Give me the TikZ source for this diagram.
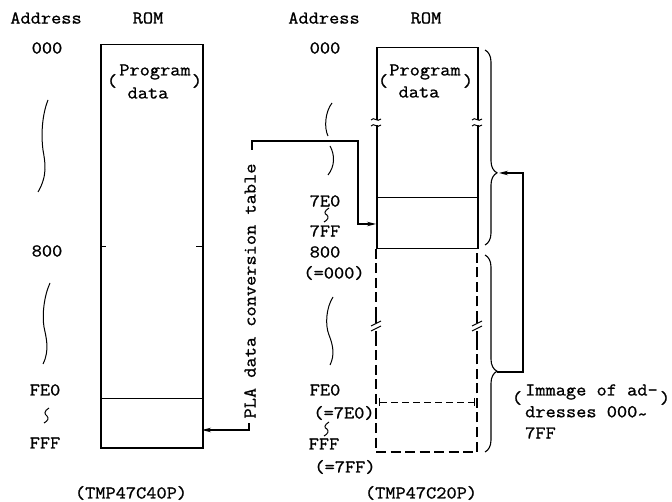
\documentclass[tikz,border=0pt]{standalone}
\usepackage{fontspec}
\setmainfont{Latin Modern Mono}[FakeStretch=1.1,FakeBold=1]
\usetikzlibrary{arrows.meta,decorations.pathreplacing}
\begin{document}
\begin{tikzpicture}[x=1pt,y=-1pt,
  lbl/.style={font=\fontsize{18}{21}\selectfont, inner sep=0pt},
  boxline/.style={draw, line width=1.5pt, inner sep=0pt},
  inner/.style={line width=1pt},
  conn/.style={line width=1.1pt},
  arr/.style={conn,-{Stealth[length=9pt,width=4.5pt]}},
  dsh/.style={line width=1.8pt, dash pattern=on 10pt off 4.5pt},
  thindsh/.style={line width=0.9pt, dash pattern=on 7pt off 4pt},
  sq/.style={line width=1pt},
  brc/.style={line width=1.1pt, decorate}
]
\useasboundingbox (0,0) rectangle (672,502);

% ---------------- left memory map (TMP47C40P)
\node[lbl] (a1) at (46,18) {Address};
\node[lbl] (r1) at (148,18) {ROM};
\node[lbl] (l000) at (47,48) {000};
\node[lbl] (l800) at (47,251) {800};
\node[lbl] (lfe0) at (45,390) {FE0};
\node[lbl] (lfff) at (45,443) {FFF};
\node[lbl] (tmp40) at (131,493) {(TMP47C40P)};

\node[boxline, minimum width=102pt, minimum height=403pt, anchor=north west] (lrom) at (100,44) {};
\draw[inner] (100,247) -- (106,247);
\draw[inner] (196,247) -- (202,247);
\draw[inner] (100,399) -- (202,399);

\node[lbl] (lprog) at (155,72) {Program};
\node[lbl] (ldata) at (148,93) {data};
\node[lbl] (lpo) at (112,81) {(};
\node[lbl] (lpc) at (197,81) {)};

% squiggles left
\draw[sq] (48,100) .. controls (42,115) and (41,135) .. (43,150) .. controls (45,162) and (48,175) .. (38,192);
\draw[sq] (50,283) .. controls (44,296) and (42,315) .. (44,327) .. controls (46,337) and (50,350) .. (43,364);
\draw[sq] (49,408) .. controls (44,411) and (44,414) .. (47,416) .. controls (49,418) and (48,421) .. (44,423);

% ---------------- right memory map (TMP47C20P)
\node[lbl] (a2) at (324,18) {Address};
\node[lbl] (r2) at (426,18) {ROM};
\node[lbl] (r000) at (325,48) {000};
\node[lbl] (r7e0) at (325,201) {7E0};
\node[lbl] (r7ff) at (325,231) {7FF};
\node[lbl] (r800) at (325,252) {800};
\node[lbl] (req0) at (334,273) {(=000)};
\node[lbl] (rfe0) at (325,390) {FE0};
\node[lbl] (req7e0) at (344,413) {(=7E0)};
\node[lbl] (rfff) at (324,444) {FFF};
\node[lbl] (req7ff) at (345,467) {(=7FF)};
\node[lbl] (tmp20) at (421,493) {(TMP47C20P)};

\node[boxline, minimum width=101pt, minimum height=201pt, anchor=north west] (rrom) at (376,47) {};
\draw[inner] (376,198) -- (477,198);
\draw[dsh] (376,249) -- (376,452) -- (477,452) -- (477,249);
\draw[thindsh] (380,402) -- (474,402);
\draw[inner] (379,398) -- (379,406);
\draw[inner] (474,398) -- (474,406);

\node[lbl] (rprog) at (425,72) {Program};
\node[lbl] (rdata) at (419,92) {data};
\node[lbl] (rpo) at (383,81) {(};
\node[lbl] (rpc) at (468,81) {)};

% break marks on solid box
\foreach \bx in {376,477}{
  \fill[white] (\bx-3,120) rectangle (\bx+3,125);
  \draw[inner] (\bx-5,120) .. controls (\bx-2,116) and (\bx+1,123) .. (\bx+5,119);
  \draw[inner] (\bx-5,126) .. controls (\bx-2,122) and (\bx+1,129) .. (\bx+5,125);
}
% break marks on dashed part
\foreach \bx in {376,477}{
  \fill[white] (\bx-3,322) rectangle (\bx+3,334);
  \draw[line width=1.5pt] (\bx,316) -- (\bx,323);
  \draw[line width=1.5pt] (\bx,331) -- (\bx,340);
  \draw[inner] (\bx-5,326) -- (\bx+5,321);
  \draw[inner] (\bx-5,331) -- (\bx+5,326);
}

% squiggles right
\draw[sq] (332,103) .. controls (325,112) and (324,128) .. (328,136);
\draw[sq] (330,146) .. controls (335,155) and (335,166) .. (328,175);
\draw[sq] (333,297) .. controls (326,308) and (325,325) .. (329,335) .. controls (333,345) and (335,355) .. (330,365);
\draw[sq] (329,208) .. controls (324,211) and (324,214) .. (327,215) .. controls (329,217) and (328,220) .. (324,222);
\draw[sq] (329,422) .. controls (324,425) and (324,428) .. (327,429) .. controls (329,431) and (328,434) .. (324,436);

% braces
\draw[brc, decoration={brace,amplitude=12pt,aspect=0.63}] (485,50) -- (485,245);
\draw[brc, decoration={brace,amplitude=12pt,aspect=0.59}] (485,255) -- (485,452);
\coordinate (btop) at (499,173);
\coordinate (bbot) at (497,372);
\coordinate (bcr1) at (523,372);
\coordinate (bcr2) at (523,173);
\draw[arr] (bbot) -- (bcr1) -- (bcr2) -- (btop);

% image-of label
\node[lbl, anchor=west] (im1) at (525,392) {Immage of ad-};
\node[lbl, anchor=west] (im2) at (525,413) {dresses 000\raisebox{-0.35ex}{\textasciitilde}};
\node[lbl, anchor=west] (im3) at (525,433) {7FF};
\node[lbl] (impo) at (517,398) {(};
\node[lbl] (impc) at (665,398) {)};

% ---------------- PLA data conversion table
\node[lbl, rotate=90] (pla) at (250,291) {PLA data conversion table};
\coordinate (plat) at (252,150);
\coordinate (plac) at (358,141);
\coordinate (rin) at (376,224);
\draw[arr] (plat) |- (plac) |- (rin);
\coordinate (plab) at (249,423);
\coordinate (lin) at (202,430);
\draw[arr] (plab) |- (lin);
\end{tikzpicture}
\end{document}
